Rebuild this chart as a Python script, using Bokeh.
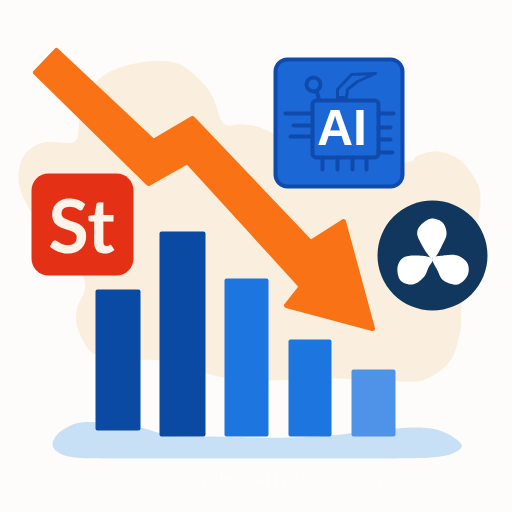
from bokeh.plotting import figure
from bokeh.models import Range1d
from bokeh.core.properties import value
from bokeh.embed import file_html
from bokeh.resources import INLINE
import numpy as np

# Chart data: bar heights
bar_values = [141, 205, 158, 97, 67]
bar_base = [430, 436, 436, 436, 436]
bar_center = [117.5, 182, 246, 309.5, 373]
bar_width = [45, 46, 44, 43, 44]
bar_colors = ["#0A4AA3", "#0A4AA3", "#1D76E0", "#1D76E0", "#4F93E8"]

# Decorative outlines
blob_outline = [(97,80),(117,68),(147,61),(177,63),(200,80),(213,98),(223,123),(243,124),(267,130),
                (340,165),(405,162),(417,155),(437,151),(460,160),(477,183),(480,200),(478,217),
                (468,270),(461,307),(460,330),(450,360),(427,378),(403,381),(330,378),(267,380),(223,377),
                (190,368),(160,360),(125,359),(93,353),(78,330),(76,310),(83,277),(40,225),(22,195),(18,173),(25,153),
                (43,142),(72,142),(78,130),(80,105)]
ground_outline = [(52,443),(60,431),(80,422),(110,423),(140,427),(170,435),(210,436),(250,437),(290,437),(330,435),
                  (375,430),(417,427),(442,431),(461,444),(452,453),(430,457),(385,458),(340,458),(295,458),
                  (250,458),(205,458),(160,458),(115,458),(75,457),(58,452)]
arrow_outline = [(56,50),(35,72),(148,183),(187,161),(301,286),(286,305),(372,328),(343,221),(310,242),(192,118),(153,141)]
petal_top = [(432,258),(419,240),(417,230),(423,222),(432,218),(442,222),(446,232),(443,242)]
petal_left = [(432,258),(417,255),(403,257),(397,267),(400,280),(412,284),(423,277),(428,267)]
petal_right = [(432,258),(437,270),(443,280),(457,284),(467,275),(467,263),(457,255),(443,255)]
chip_antenna = [(337,97),(337,89),(351,74),(375,73),(357,81),(347,89),(346,97)]
pin_h = [(285,310,113),(293,310,125),(290,310,136),(378,393,113),(378,390,127),(378,390,139),(378,392,152)]
pin_v = [322,337,352,366]


def smooth(pts, n=10):
    a = np.array(pts, float)
    out = []
    for i in range(len(a)):
        p0, p1, p2, p3 = a[i-1], a[i], a[(i+1) % len(a)], a[(i+2) % len(a)]
        for t in np.linspace(0, 1, n, endpoint=False):
            out.append(0.5*(2*p1 + (p2-p0)*t + (2*p0-5*p1+4*p2-p3)*t*t + (3*p1-p0-3*p2+p3)*t**3))
    out = np.array(out)
    return out[:, 0], out[:, 1]


def rrect(x0, y0, x1, y1, r):
    xs, ys = [], []
    for cx, cy, a0 in [(x1-r, y0+r, -90), (x1-r, y1-r, 0), (x0+r, y1-r, 90), (x0+r, y0+r, 180)]:
        for a in np.radians(np.linspace(a0, a0+90, 9)):
            xs.append(cx + r*np.cos(a)); ys.append(cy + r*np.sin(a))
    return xs, ys


BG = "#FDFCFA"
p = figure(width=496, height=496, output_backend="svg", toolbar_location=None,
           x_range=Range1d(0, 496), y_range=Range1d(496, 0), min_border=0,
           background_fill_color=BG, border_fill_color=BG, outline_line_color=None)
p.axis.visible = False
p.grid.visible = False

bx, by = smooth(blob_outline)
p.patch(bx, by, fill_color="#FAEFDF", line_color=None)
gx, gy = smooth(ground_outline)
p.patch(gx, gy, fill_color="#C8E0F5", line_color=None)

tops = [b - v for b, v in zip(bar_base, bar_values)]
p.vbar(x=bar_center, width=bar_width, top=tops, bottom=bar_base, fill_color=bar_colors,
       line_color=None, border_radius=2)

ax, ay = zip(*arrow_outline)
p.patch(list(ax), list(ay), fill_color="#F97316", line_color="#F97316", line_width=5, line_join="round")

# St badge
x, y = rrect(31, 173, 133, 275, 17)
p.patch(x, y, fill_color="#E43116", line_color=None)
p.text([81], [224], text=["St"], text_font=value("Lato"), text_font_style="bold",
       text_font_size="74px", text_color="#FDF3E8", text_align="center", text_baseline="alphabetic")

# AI chip badge
x, y = rrect(275, 59, 402, 186, 12)
p.patch(x, y, fill_color="#1C67D6", line_color="#0F4BAD", line_width=4)
x, y = rrect(312, 100, 378, 157, 4)
p.patch(x, y, fill_color="#1C67D6", line_color="#0F4BAD", line_width=4)
for x0, x1, yy in pin_h:
    p.line([x0, x1], [yy, yy], line_color="#0F4BAD", line_width=4, line_cap="round")
for xx in pin_v:
    p.line([xx, xx], [157, 169], line_color="#0F4BAD", line_width=4, line_cap="round")
p.scatter([313], [84], size=14, marker="circle", fill_color="#1C67D6", line_color="#0F4BAD", line_width=4)
p.line([316, 319], [90, 101], line_color="#0F4BAD", line_width=4)
cx_, cy_ = zip(*chip_antenna)
p.patch(list(cx_), list(cy_), fill_color="#1C67D6", line_color="#0F4BAD", line_width=3, line_join="round")
p.text([341.5], [127], text=["AI"], text_font=value("Liberation Sans"), text_font_style="bold",
       text_font_size="50px", text_color="#FFFFFF", text_align="center", text_baseline="alphabetic")

# Round logo
p.circle([432], [255], radius=55, fill_color="#12375F", line_color=None)
for petal in (petal_top, petal_left, petal_right):
    x, y = smooth(petal)
    p.patch(x, y, fill_color="#FFFFFF", line_color=None)

# Faint watermark
p.text([277], [477], text=["CompleteAITraining.com"], text_font=value("Open Sans"), text_font_style="bold",
       text_font_size="18px", text_color="#FEFDFC", text_align="center", text_baseline="alphabetic")

html = file_html(p, INLINE).replace("<head>", "<head><style>html,body{background:#FDFCFA}</style>", 1)
open("out.html", "w").write(html)
